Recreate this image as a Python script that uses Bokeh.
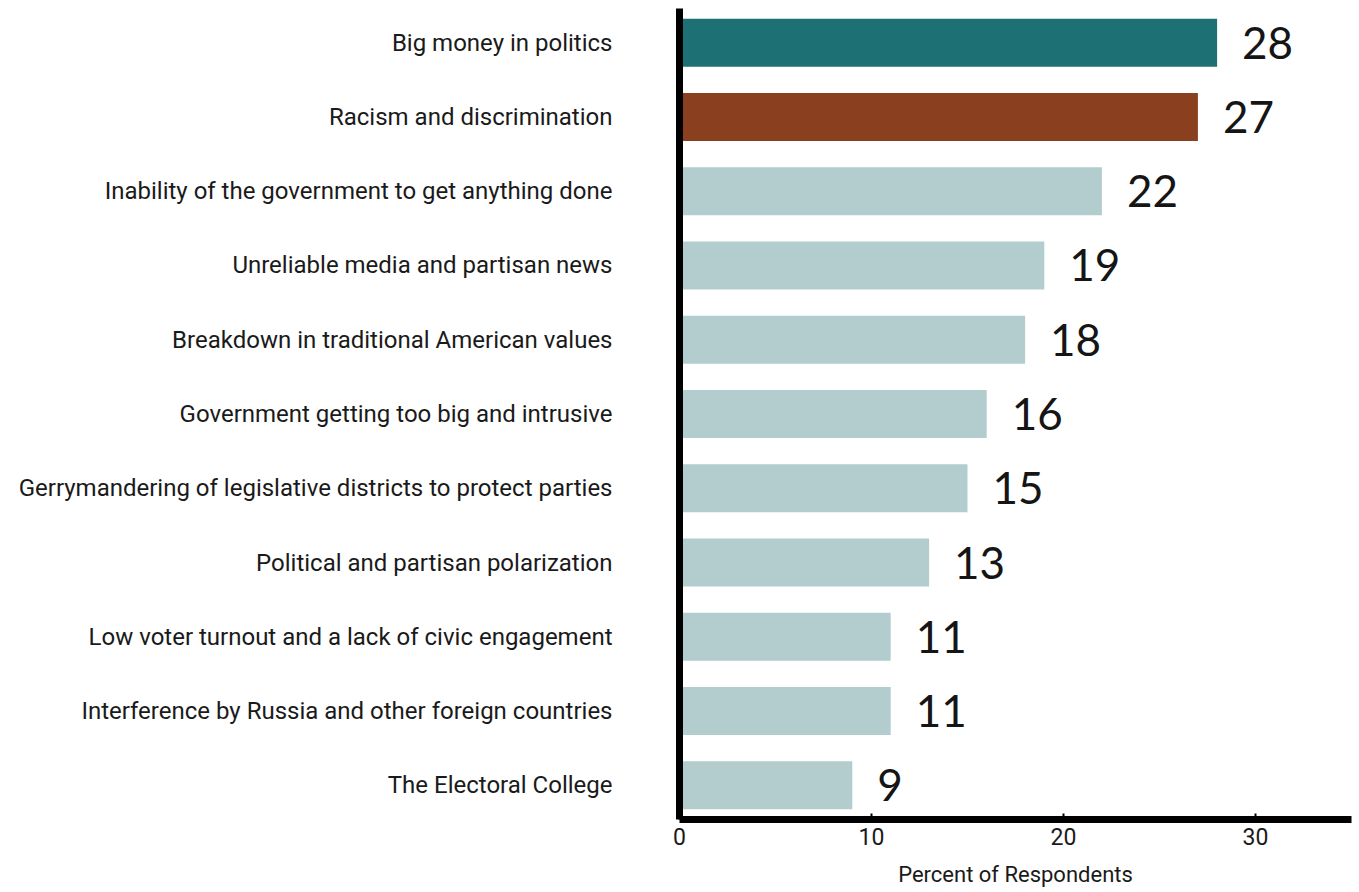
from bokeh.plotting import figure
from bokeh.models import FactorRange, Range1d, FixedTicker, ColumnDataSource
from bokeh.core.properties import value
from bokeh.embed import file_html
from bokeh.resources import INLINE

categories = [
    "Big money in politics",
    "Racism and discrimination",
    "Inability of the government to get anything done",
    "Unreliable media and partisan news",
    "Breakdown in traditional American values",
    "Government getting too big and intrusive",
    "Gerrymandering of legislative districts to protect parties",
    "Political and partisan polarization",
    "Low voter turnout and a lack of civic engagement",
    "Interference by Russia and other foreign countries",
    "The Electoral College",
]
percents = [28, 27, 22, 19, 18, 16, 15, 13, 11, 11, 9]
bar_colors = ["#1D7174", "#8A401E"] + ["#B3CDCE"] * 9
x_ticks = [0, 10, 20, 30]
x_title = "Percent of Respondents"

src = ColumnDataSource(dict(
    cat=categories,
    pct=percents,
    color=bar_colors,
    label=[str(v) for v in percents],
))

p = figure(
    width=1359, height=892,
    y_range=FactorRange(factors=list(reversed(categories)), range_padding=-0.04,
                        range_padding_units="absolute"),
    x_range=Range1d(0, 35),
    output_backend="svg", toolbar_location=None,
    min_border_left=679, min_border_right=8, min_border_top=8, min_border_bottom=73,
)
p.outline_line_color = None
p.background_fill_color = "white"
p.border_fill_color = "white"
p.xgrid.visible = False
p.ygrid.visible = False

p.hbar(y="cat", right="pct", left=0, height=0.647, color="color", line_color=None, source=src)
p.text(x="pct", y="cat", text="label", source=src, x_offset=25,
       text_baseline="middle", text_align="left",
       text_font=value("Lato"), text_font_size="44px", text_color="#151515")

# y axis
ya = p.yaxis[0]
ya.axis_line_width = 7
ya.axis_line_color = "black"
ya.major_tick_in = 0
ya.major_tick_out = 0
ya.minor_tick_in = 0
ya.minor_tick_out = 0
ya.major_label_standoff = 67
ya.major_label_text_font = "Roboto"
ya.major_label_text_font_size = "24px"
ya.major_label_text_color = "#1a1a1a"

# x axis
xa = p.xaxis[0]
xa.ticker = FixedTicker(ticks=x_ticks)
xa.axis_line_width = 7
xa.axis_line_color = "black"
xa.major_tick_in = 6
xa.major_tick_out = 0
xa.major_tick_line_width = 2
xa.minor_tick_in = 0
xa.minor_tick_out = 0
xa.major_label_standoff = 8
xa.major_label_text_font = "Roboto"
xa.major_label_text_font_size = "23px"
xa.major_label_text_color = "#1a1a1a"
xa.axis_label = x_title
xa.axis_label_text_font = "Roboto"
xa.axis_label_text_font_style = "normal"
xa.axis_label_text_font_size = "22px"
xa.axis_label_text_color = "#1a1a1a"
xa.axis_label_standoff = 14

open("out.html", "w").write(file_html(p, INLINE))
